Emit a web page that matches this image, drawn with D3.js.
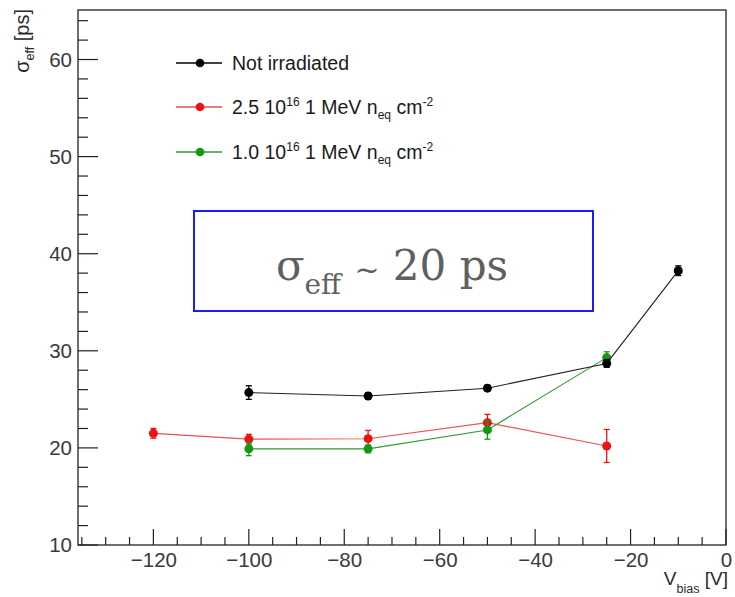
<!DOCTYPE html>
<html><head><meta charset="utf-8">
<script src="https://cdn.jsdelivr.net/npm/d3@7"></script>
<style>body{margin:0;background:#fff}svg{display:block}</style>
</head><body>
<script>
// ---- data ----
const voltsBlack = [-100, -75, -50, -25, -10];
const sigmaBlack = [25.7, 25.35, 26.15, 28.7, 38.25];
const errBlack   = [0.7, 0.3, 0.3, 0.4, 0.5];

const voltsRed = [-120, -100, -75, -50, -25];
const sigmaRed = [21.5, 20.9, 20.95, 22.6, 20.2];
const errRed   = [0.5, 0.5, 0.85, 0.85, 1.7];

const voltsGreen = [-100, -75, -50, -25];
const sigmaGreen = [19.9, 19.9, 21.85, 29.3];
const errGreen   = [0.7, 0.4, 0.95, 0.6];

const xTicks = [-120, -100, -80, -60, -40, -20, 0];
const yTicks = [10, 20, 30, 40, 50, 60];

const seriesNames = ["Not irradiated", "2.5 10|16| 1 MeV n_eq cm^-2", "1.0 10|16| 1 MeV n_eq cm^-2"];

const W = 735, H = 597;
const L = 78, R = 726, T = 10, B = 545;
const svg = d3.select("body").append("svg").attr("width", W).attr("height", H);

const x = d3.scaleLinear().domain([-135.8, 0]).range([L, R]);
const y = d3.scaleLinear().domain([10, 65.1]).range([B, T]);

const font = "'Liberation Sans', Arial, sans-serif";
const axisColor = "#222";
const labelColor = "#3a3a3a";

// frame
svg.append("rect").attr("x", L).attr("y", T).attr("width", R - L).attr("height", B - T)
  .attr("fill", "none").attr("stroke", axisColor).attr("stroke-width", 1.3);

// x axis
const xAxis = d3.axisBottom(x).tickValues(xTicks).tickSize(0).tickPadding(0)
  .tickFormat(d => d === 0 ? "0" : "\u2212" + Math.abs(d));
const gx = svg.append("g").attr("transform", `translate(0,${B})`).call(xAxis);
gx.select(".domain").remove();
gx.selectAll("text").attr("font-family", font).attr("font-size", 20.5).attr("fill", labelColor)
  .attr("dy", null).attr("y", 22);
const xMinor = d3.range(-135, 0.1, 5);
svg.append("g").selectAll("line").data(xMinor).join("line")
  .attr("x1", d => x(d)).attr("x2", d => x(d))
  .attr("y1", B).attr("y2", d => B - (d % 20 === 0 ? 16 : 8))
  .attr("stroke", axisColor).attr("stroke-width", 1.2);

// y axis
const yAxis = d3.axisLeft(y).tickValues(yTicks).tickSize(0).tickPadding(6);
const gy = svg.append("g").attr("transform", `translate(${L},0)`).call(yAxis);
gy.select(".domain").remove();
gy.selectAll("text").attr("font-family", font).attr("font-size", 20.5).attr("fill", labelColor);
const yMinor = d3.range(10, 65, 2);
svg.append("g").selectAll("line").data(yMinor).join("line")
  .attr("y1", d => y(d)).attr("y2", d => y(d))
  .attr("x1", L).attr("x2", d => L + (d % 10 === 0 ? 20 : 10))
  .attr("stroke", axisColor).attr("stroke-width", 1.2);

// axis titles
const yt = svg.append("text").attr("transform", `translate(29,9) rotate(-90)`)
  .attr("text-anchor", "end").attr("font-family", font).attr("font-size", 20).attr("fill", "#2a2a2a");
yt.append("tspan").text("\u03c3");
yt.append("tspan").attr("font-size", 12.5).attr("dy", 5).text("eff");
yt.append("tspan").attr("dy", -5).text(" [ps]");

const xt = svg.append("text").attr("x", 728).attr("y", 585)
  .attr("text-anchor", "end").attr("font-family", font).attr("font-size", 19).attr("fill", "#2a2a2a");
xt.append("tspan").text("V");
xt.append("tspan").attr("font-size", 12.5).attr("dy", 8).text("bias");
xt.append("tspan").attr("dy", -8).text(" [V]");

// series
function drawSeries(xs, ys, es, lineColor, dotColor) {
  const pts = xs.map((v, i) => ({x: v, y: ys[i], e: es[i]}));
  const g = svg.append("g");
  g.append("path").datum(pts)
    .attr("d", d3.line().x(d => x(d.x)).y(d => y(d.y)))
    .attr("fill", "none").attr("stroke", lineColor).attr("stroke-width", 1.1);
  const eb = g.selectAll("g.eb").data(pts).join("g");
  eb.append("line").attr("x1", d => x(d.x)).attr("x2", d => x(d.x))
    .attr("y1", d => y(d.y - d.e)).attr("y2", d => y(d.y + d.e)).attr("stroke", dotColor).attr("stroke-width", 1.3);
  [1, -1].forEach(s => {
    eb.append("line").attr("x1", d => x(d.x) - 3).attr("x2", d => x(d.x) + 3)
      .attr("y1", d => y(d.y + s * d.e)).attr("y2", d => y(d.y + s * d.e)).attr("stroke", dotColor).attr("stroke-width", 1.3);
  });
  g.selectAll("circle").data(pts).join("circle")
    .attr("cx", d => x(d.x)).attr("cy", d => y(d.y)).attr("r", 4.5).attr("fill", dotColor);
}
drawSeries(voltsRed, sigmaRed, errRed, "#f05050", "#ee1111");
drawSeries(voltsGreen, sigmaGreen, errGreen, "#339933", "#119911");
drawSeries(voltsBlack, sigmaBlack, errBlack, "#222", "#000");

// legend
const legend = [
  {name: seriesNames[0], line: "#000", dot: "#000", y: 63},
  {name: seriesNames[1], line: "#e05050", dot: "#ee1111", y: 107},
  {name: seriesNames[2], line: "#339933", dot: "#119911", y: 152}
];
legend.forEach((l, i) => {
  svg.append("line").attr("x1", 176).attr("x2", 222).attr("y1", l.y).attr("y2", l.y)
    .attr("stroke", l.line).attr("stroke-width", 1.3);
  svg.append("circle").attr("cx", 200).attr("cy", l.y).attr("r", 4.3).attr("fill", l.dot);
  const t = svg.append("text").attr("x", 232).attr("y", l.y + 7)
    .attr("font-family", font).attr("font-size", 19.5).attr("fill", "#1a1a1a");
  if (i === 0) { t.text(l.name); return; }
  const lead = l.name.split("|")[0];
  t.append("tspan").text(lead);
  t.append("tspan").attr("font-size", 12).attr("dy", -8).text("16");
  t.append("tspan").attr("dy", 8).text(" 1 MeV n");
  t.append("tspan").attr("font-size", 12).attr("dy", 5).text("eq");
  t.append("tspan").attr("dy", -5).text(" cm");
  t.append("tspan").attr("font-size", 12).attr("dy", -8).text("-2");
});

// annotation box
svg.append("rect").attr("x", 194).attr("y", 211).attr("width", 399).attr("height", 100)
  .attr("fill", "none").attr("stroke", "#1a1aff").attr("stroke-width", 2);
const at = svg.append("text").attr("x", 392).attr("y", 280).attr("text-anchor", "middle")
  .attr("font-family", "'DejaVu Serif', 'Liberation Serif', serif").attr("font-size", 42).attr("fill", "#5f5f5f");
at.append("tspan").text("\u03c3");
at.append("tspan").attr("font-size", 28).attr("dy", 14).text("eff");
at.append("tspan").attr("dy", -14).text(" ");
at.append("tspan").attr("font-size", 30).text("~");
at.append("tspan").text(" 20 ps");
</script>
</body></html>
